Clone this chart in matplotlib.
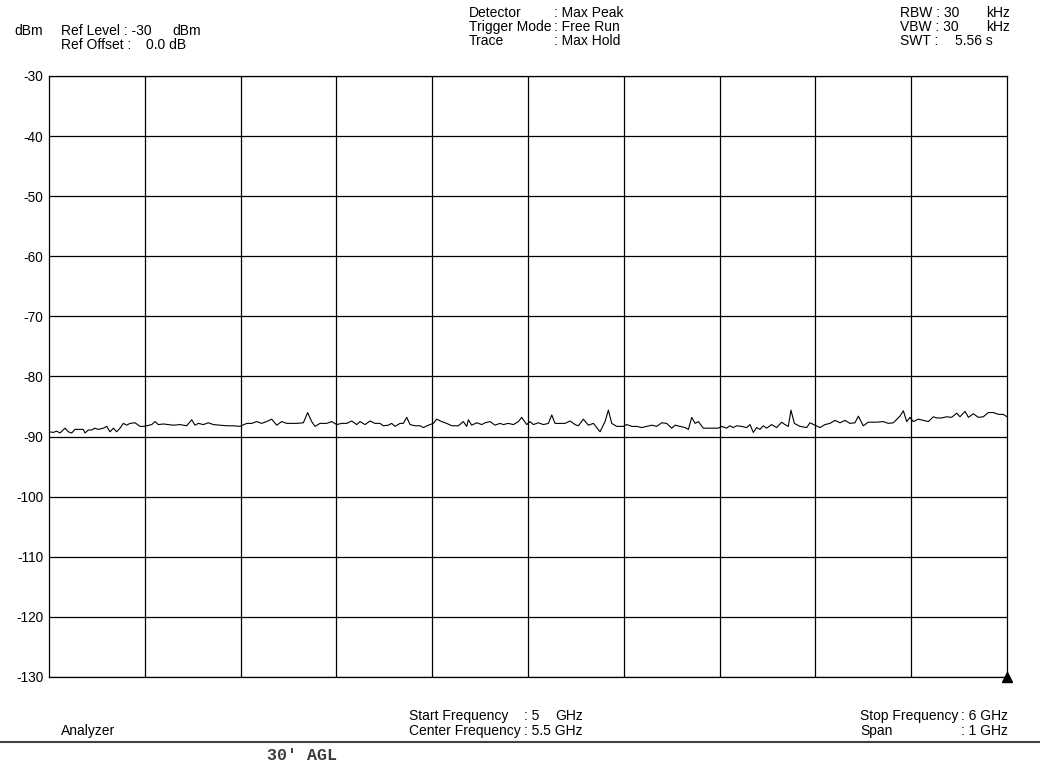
import matplotlib
matplotlib.use('Agg')
import matplotlib.pyplot as plt

W, H = 1040, 767

# trace (frequency in MHz, level in dBm)
freq_mhz = [
    5000.0, 5004.5, 5008.0, 5011.5, 5016.7, 5020.2, 5023.7, 5027.1, 5032.4, 5035.8,
    5037.6, 5041.1, 5044.5, 5048.0, 5051.5, 5056.7, 5060.2, 5063.7, 5067.2, 5070.6,
    5074.1, 5077.6, 5081.1, 5084.6, 5089.8, 5095.0, 5098.5, 5102.0, 5107.2, 5110.7,
    5114.1, 5119.4, 5124.6, 5129.8, 5136.8, 5143.7, 5149.0, 5152.4, 5155.9, 5161.1,
    5166.3, 5171.6, 5178.5, 5185.5, 5192.4, 5199.4, 5206.4, 5211.6, 5216.8, 5222.0,
    5227.2, 5232.5, 5237.7, 5242.9, 5248.1, 5253.3, 5258.6, 5265.5, 5270.0, 5274.2,
    5277.7, 5282.9, 5289.9, 5295.1, 5300.3, 5305.5, 5310.8, 5316.0, 5321.2, 5324.7,
    5329.9, 5335.1, 5340.3, 5345.5, 5349.0, 5354.2, 5357.7, 5361.2, 5366.4, 5369.9,
    5373.4, 5376.9, 5382.1, 5387.3, 5390.8, 5396.0, 5401.2, 5404.7, 5409.9, 5415.1,
    5420.4, 5427.3, 5432.5, 5436.0, 5437.8, 5441.2, 5446.5, 5451.7, 5455.2, 5460.4,
    5465.6, 5470.8, 5474.3, 5479.5, 5484.7, 5490.0, 5493.4, 5498.7, 5502.1, 5505.6,
    5510.8, 5516.1, 5521.3, 5524.8, 5528.2, 5533.5, 5538.7, 5543.9, 5549.1, 5552.6,
    5557.8, 5563.0, 5568.3, 5575.2, 5580.4, 5583.9, 5587.4, 5592.6, 5599.6, 5603.1,
    5608.3, 5613.5, 5618.7, 5623.9, 5629.2, 5634.4, 5639.6, 5644.8, 5650.0, 5653.5,
    5658.7, 5664.0, 5667.4, 5670.9, 5674.4, 5677.9, 5683.0, 5689.9, 5698.6, 5702.1,
    5707.3, 5710.8, 5714.3, 5717.8, 5723.0, 5728.2, 5731.7, 5735.2, 5738.7, 5742.1,
    5745.6, 5749.1, 5754.3, 5759.5, 5764.8, 5768.2, 5771.7, 5774.5, 5778.0, 5783.9,
    5790.9, 5794.3, 5799.6, 5804.8, 5810.0, 5815.2, 5820.4, 5825.7, 5830.9, 5836.1,
    5841.3, 5844.8, 5850.0, 5855.2, 5863.9, 5870.9, 5876.1, 5881.3, 5888.3, 5891.8,
    5895.3, 5898.7, 5902.2, 5907.4, 5912.7, 5917.9, 5923.1, 5926.6, 5931.8, 5937.0,
    5942.2, 5947.5, 5950.9, 5956.2, 5959.7, 5964.9, 5970.1, 5975.3, 5980.5, 5985.7,
    5991.0, 5996.2, 6000.0,
]
level_dbm = [
    -89.2, -89.3, -89.1, -89.4, -88.6, -89.2, -89.4, -88.8, -88.8, -88.8,
    -89.4, -88.9, -88.9, -88.6, -88.8, -88.6, -88.3, -89.2, -88.6, -89.2,
    -88.6, -87.8, -88.1, -87.8, -87.7, -88.3, -88.3, -88.2, -88.0, -87.5,
    -88.0, -87.9, -88.0, -88.1, -88.0, -88.2, -87.2, -88.1, -87.8, -88.0,
    -87.7, -88.0, -88.1, -88.2, -88.2, -88.3, -87.8, -87.8, -87.5, -87.8,
    -87.5, -87.1, -88.1, -87.5, -87.8, -87.8, -87.8, -87.7, -86.0, -87.5,
    -88.3, -87.8, -87.8, -87.5, -88.0, -87.8, -87.8, -87.4, -88.0, -87.5,
    -88.0, -87.4, -87.8, -87.8, -88.2, -88.1, -87.8, -88.3, -87.8, -87.8,
    -86.8, -88.0, -88.2, -88.2, -88.5, -88.1, -87.8, -87.1, -87.5, -87.8,
    -88.2, -88.2, -87.5, -88.3, -87.2, -88.1, -87.7, -88.0, -87.7, -87.5,
    -88.1, -87.8, -88.0, -87.8, -88.0, -87.5, -86.8, -88.0, -87.5, -88.0,
    -87.7, -88.0, -87.8, -86.4, -87.8, -87.8, -87.8, -87.4, -88.0, -88.2,
    -87.1, -88.1, -87.8, -89.2, -87.5, -85.6, -87.8, -88.3, -88.3, -88.0,
    -88.3, -88.3, -88.5, -88.3, -88.1, -88.3, -87.7, -87.8, -88.6, -88.1,
    -88.3, -88.5, -88.8, -86.8, -87.8, -87.5, -88.6, -88.6, -88.6, -88.3,
    -88.6, -88.2, -88.5, -88.2, -88.3, -88.5, -88.0, -89.3, -88.5, -88.8,
    -88.2, -88.6, -88.0, -88.5, -87.6, -88.0, -88.3, -85.6, -87.8, -88.3,
    -88.5, -87.7, -88.1, -88.5, -88.0, -87.8, -87.3, -87.7, -87.3, -87.8,
    -87.7, -86.6, -88.2, -87.6, -87.6, -87.5, -87.8, -87.7, -86.6, -85.7,
    -87.5, -86.8, -87.5, -87.1, -87.3, -87.5, -86.7, -86.9, -86.9, -86.7,
    -86.8, -86.1, -86.7, -85.8, -86.8, -86.2, -86.8, -86.7, -86.0, -86.0,
    -86.3, -86.3, -86.7,
]

y_ticks = list(range(-130, -29, 10))
x_grid = list(range(5100, 6000, 100))

plt.rcParams['font.family'] = ['Liberation Sans', 'DejaVu Sans']
FS = 10

fig = plt.figure(figsize=(W / 100, H / 100), dpi=100)
fig.patch.set_facecolor('white')
rend = fig.canvas.get_renderer()

# plot box: x 49..1007 px, y 76..677 px
ax = fig.add_axes([49 / W, 1 - 677 / H, (1007 - 49) / W, (677 - 76) / H])
ax.set_xlim(5000, 6000)
ax.set_ylim(-130, -30)
ax.set_yticks(y_ticks)
ax.set_yticklabels([str(v) for v in y_ticks], fontsize=9.8)
ax.set_xticks(x_grid)
ax.tick_params(axis='x', length=0, labelbottom=False)
ax.tick_params(axis='y', length=0, pad=4)
for v in y_ticks:
    ax.axhline(v, color='black', lw=0.9, zorder=1)
for v in x_grid:
    ax.axvline(v, color='black', lw=0.9, zorder=1)
for s in ax.spines.values():
    s.set_color('black')
    s.set_linewidth(0.9)

ax.plot(freq_mhz, level_dbm, color='black', lw=0.8, zorder=3)
ax.plot([6000], [-130], marker='^', color='black', ms=7, clip_on=False, zorder=4)


def txt(x, y, s, **kw):
    return fig.text(x / W, 1 - y / H, s, va='center', ha='left', fontsize=FS, **kw)


def colon_x(t):
    # pixel x just after a label plus one space, where the ': value' column starts
    bb = t.get_window_extent(renderer=rend)
    return bb.x1 + 3


# header
txt(14, 31, 'dBm')
txt(61, 31, 'Ref Level : -30')
txt(172, 31, 'dBm')
txt(61, 45, 'Ref Offset :')
txt(146, 45, '0.0 dB')

lab = txt(469, 27, 'Trigger Mode')
cx = colon_x(lab)
txt(469, 13, 'Detector')
txt(469, 41, 'Trace')
txt(cx, 13, ': Max Peak')
txt(cx, 27, ': Free Run')
txt(cx, 41, ': Max Hold')

txt(900, 13, 'RBW : 30')
txt(986, 13, 'kHz')
txt(900, 27, 'VBW : 30')
txt(986, 27, 'kHz')
txt(900, 41, 'SWT :')
txt(955, 41, '5.56 s')

# footer
txt(61, 731, 'Analyzer')
lab = txt(409, 731, 'Center Frequency')
cx = colon_x(lab)
txt(cx, 731, ': 5.5 GHz')
txt(409, 716, 'Start Frequency')
txt(cx, 716, ': 5')
txt(cx + 32, 716, 'GHz')
lab = txt(860, 716, 'Stop Frequency')
cx = colon_x(lab)
txt(cx, 716, ': 6 GHz')
txt(860, 731, 'Span')
txt(cx, 731, ': 1 GHz')

fig.add_artist(plt.Line2D([0, 1], [1 - 742 / H, 1 - 742 / H], color='#404040', lw=1.5,
                          transform=fig.transFigure))
fig.text(267 / W, 1 - 756 / H, "30' AGL", va='center', ha='left', fontsize=12,
         family=['Liberation Mono', 'DejaVu Sans Mono'], fontweight='bold', color='#3a3a3a')

fig.savefig('out.png', dpi=100, facecolor='white')
